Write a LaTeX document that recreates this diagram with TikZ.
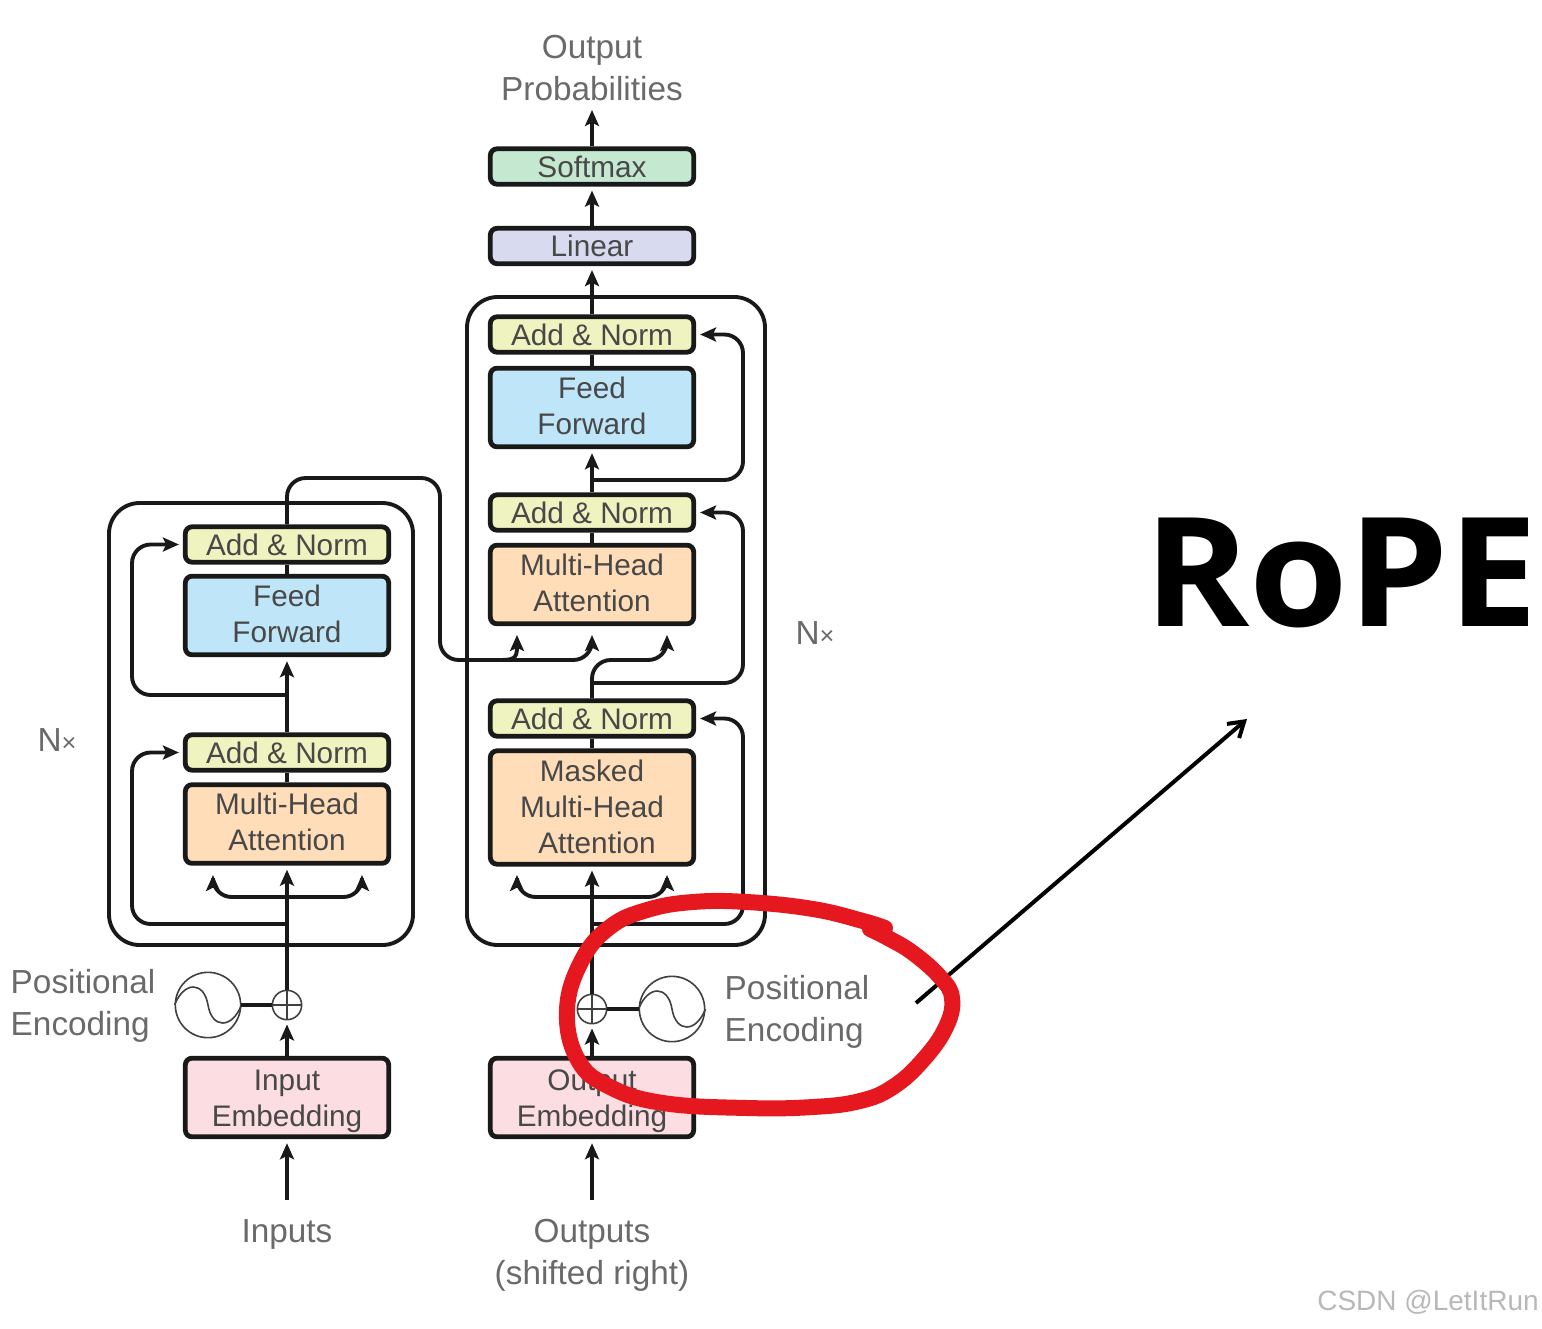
\documentclass[tikz,border=0pt]{standalone}
\usepackage{fontspec}
\usepackage{graphicx}
\setmainfont{Liberation Sans}
\newfontfamily\ropefont{Open Sans}
\usetikzlibrary{arrows.meta,calc}
\definecolor{anc}{HTML}{EFF3BF}
\definecolor{ffc}{HTML}{BFE6F8}
\definecolor{mhc}{HTML}{FFDDB8}
\definecolor{emc}{HTML}{FBDDE2}
\definecolor{sfc}{HTML}{C5E8D0}
\definecolor{lnc}{HTML}{D8DBF0}
\definecolor{txt}{HTML}{484848}
\definecolor{lbl}{HTML}{6A6A6A}
\definecolor{redm}{HTML}{E5181F}
\newcommand{\upl}[1][3pt]{\rule[-#1]{0pt}{0pt}}
\newcommand{\dnl}{\rule{0pt}{20.7pt}}
\tikzset{
  tipa/.tip={Stealth[length=12pt,width=10.5pt,inset=2.5pt]},
  box/.style={draw=black!90,line width=3.6pt,rounded corners=5pt,minimum width=152.5pt,inner sep=0pt,
    align=center,text=txt,font=\fontsize{22.3}{27}\selectfont},
  short/.style={box,minimum height=26.5pt},
  tall/.style={box,minimum height=59pt},
  taller/.style={box,minimum height=85pt},
  lab/.style={align=center,text=lbl,font=\fontsize{25}{31.5}\selectfont,inner sep=0pt},
  frm/.style={draw=black!90,line width=2.9pt,rounded corners=23pt},
  con/.style={draw=black!90,line width=2.9pt},
  arr/.style={con,-tipa,shorten >=3pt},
  rcon/.style={con,rounded corners=14pt},
  barr/.style={rcon,-tipa,shorten >=3pt},
  thinline/.style={draw=black!75,line width=1.2pt}
}
\begin{document}
\begin{tikzpicture}[x=0.75pt,y=-0.75pt]
\useasboundingbox (0,0) rectangle (1542,1328);
% frames
\node[frm,minimum width=228pt,minimum height=331.5pt,inner sep=0pt] (encframe) at (261,724) {};
\node[frm,minimum width=223.5pt,minimum height=486pt,inner sep=0pt] (decframe) at (616,621) {};
% encoder boxes
\node[short,fill=anc] (ean1) at (287,544.5) {Add \& Norm};
\node[tall,fill=ffc] (eff) at (287,615.5) {Feed\\Forward\upl};
\node[short,fill=anc] (ean2) at (287,752.5) {Add \& Norm};
\node[tall,fill=mhc] (emh) at (287,824) {Multi-Head\\Attention\upl};
\node[tall,fill=emc] (eemb) at (287,1097.5) {\dnl Input\\Embedding};
% decoder boxes
\node[short,fill=sfc] (soft) at (592,166.5) {Softmax};
\node[short,fill=lnc] (lin) at (592,246) {Linear};
\node[short,fill=anc] (dan1) at (592,334.5) {Add \& Norm};
\node[tall,fill=ffc] (dff) at (592,407.5) {Feed\\Forward\upl};
\node[short,fill=anc] (dan2) at (592,512.5) {Add \& Norm};
\node[tall,fill=mhc] (dmh) at (592,584.5) {Multi-Head\\Attention\upl};
\node[short,fill=anc] (dan3) at (592,718.5) {Add \& Norm};
\node[taller,fill=mhc] (dmm) at (592,807.5) {Masked\\Multi-Head\\\hspace*{7.5pt}Attention\upl[1.5pt]};
\node[tall,fill=emc] (demb) at (592,1097.5) {\dnl Output\\Embedding};
% labels
\node[lab] (prob) at (592,68) {Output\\Probabilities};
\node[lab] (inp) at (287,1234) {Inputs};
\node[lab] (outp) at (592,1255) {Outputs\\(shifted right)};
\node[lab,align=left] (pel) at (83,1006) {Positional\\Encoding};
\node[lab,align=left] (per) at (797,1012) {Positional\\Encoding};
\node[lab] (nxl) at (57,740) {N{\fontsize{19}{19}\selectfont ×}};
\node[lab] (nxr) at (815,633) {N{\fontsize{19}{19}\selectfont ×}};
% positional symbols
\node[draw=black!75,line width=1.2pt,circle,minimum size=49pt,inner sep=0pt] (esin) at (208,1005) {};
\node[draw=black!75,line width=1.2pt,circle,minimum size=49pt,inner sep=0pt] (dsin) at (672,1009) {};
\node[draw=black!75,line width=1.2pt,circle,minimum size=22pt,inner sep=0pt] (epl) at (287,1005) {};
\node[draw=black!75,line width=1.2pt,circle,minimum size=22pt,inner sep=0pt] (dpl) at (592,1009) {};
\foreach \c in {esin,dsin}{
  \draw[thinline] (\c.west) .. controls ($(\c.center)+(-24,-24)$) and ($(\c.center)+(-4,-24)$) .. (\c.center)
     .. controls ($(\c.center)+(4,24)$) and ($(\c.center)+(24,24)$) .. (\c.east);
}
\foreach \c in {epl,dpl}{
  \draw[thinline] (\c.west) -- (\c.east) (\c.north) -- (\c.south);
}
\draw[con] (esin.east) -- (epl.west);
\draw[con] (dpl.east) -- (dsin.west);
% encoder connectors
\coordinate (einS) at (287,1200);
\draw[arr] (einS) -- (eemb.south);
\draw[arr] (eemb.north) -- (epl.south);
\draw[arr] (epl.north) -- (emh.south);
\coordinate (ej1) at (287,897);
\coordinate (ej2) at (287,924);
\coordinate (ej3) at (287,695);
\coordinate (ex1) at (213,871);
\coordinate (ex2) at (362,871);
\draw[barr] (ej1) -| (ex1);
\draw[barr] (ej1) -| (ex2);
\coordinate (ec1) at (132,924);
\coordinate (ec2) at (132,752.5);
\draw[barr] (ej2) -- (ec1) -- (ec2) -- (ean2.west);
\draw[con] (emh.north) -- (ean2.south);
\draw[arr] (ean2.north) -- (eff.south);
\coordinate (ec3) at (132,695);
\coordinate (ec4) at (132,544.5);
\draw[barr] (ej3) -- (ec3) -- (ec4) -- (ean1.west);
\draw[con] (eff.north) -- (ean1.south);
% encoder to decoder
\coordinate (xa) at (287,478);
\coordinate (xb) at (440,478);
\coordinate (xc) at (440,660);
\coordinate (xd) at (592,660);
\coordinate (xe) at (592,631);
\coordinate (xf) at (517,660);
\coordinate (xg) at (517,631);
\draw[barr] (ean1.north) -- (xa) -- (xb) -- (xc) -- (xd) -- (xe);
\draw[barr] ($(xf)+(-22,0)$) .. controls ($(xf)+(-4,0)$) and (xf) .. (xg);
% decoder connectors
\coordinate (doutS) at (592,1200);
\draw[arr] (doutS) -- (demb.south);
\draw[arr] (demb.north) -- (dpl.south);
\draw[arr] (dpl.north) -- (dmm.south);
\coordinate (dj1) at (592,897);
\coordinate (dj2) at (592,924);
\coordinate (dx1) at (517,871);
\coordinate (dx2) at (667,871);
\draw[barr] (dj1) -| (dx1);
\draw[barr] (dj1) -| (dx2);
\coordinate (dc1) at (743,924);
\coordinate (dc2) at (743,718.5);
\draw[barr] (dj2) -- (dc1) -- (dc2) -- (dan3.east);
\draw[con] (dmm.north) -- (dan3.south);
\coordinate (dj3) at (592,660);
\coordinate (dj4) at (592,683);
\coordinate (dx3) at (667,631);
\coordinate (dk) at (667,660);
\draw[barr] (dan3.north) -- (dj3) -- (dk) -- (dx3);
\coordinate (dc3) at (743,683);
\coordinate (dc4) at (743,512.5);
\draw[barr] (dj4) -- (dc3) -- (dc4) -- (dan2.east);
\draw[con] (dmh.north) -- (dan2.south);
\draw[arr] (dan2.north) -- (dff.south);
\coordinate (dj5) at (592,480);
\coordinate (dc5) at (743,480);
\coordinate (dc6) at (743,334.5);
\draw[barr] (dj5) -- (dc5) -- (dc6) -- (dan1.east);
\draw[con] (dff.north) -- (dan1.south);
\draw[arr] (dan1.north) -- (lin.south);
\draw[arr] (lin.north) -- (soft.south);
\coordinate (probS) at (592,106);
\draw[arr] (soft.north) -- (probS);
% RoPE
\node[inner sep=0pt,anchor=center] (rope) at (1341,573) {\scalebox{1.05}[1]{\ropefont\bfseries\fontsize{114}{114}\selectfont RoPE}};
\node[inner sep=0pt,text=black!28,font=\fontsize{21}{21}\selectfont] (mark) at (1428,1302) {CSDN @LetItRun};
% pointer
\coordinate (pa) at (916,1003);
\coordinate (pb) at (1247,719);
\draw[line width=3pt,draw=black,-{Straight Barb[length=11pt,width=14pt]}] (pa) -- (pb);
% red ring
\draw[redm,line width=12pt,line cap=round,line join=round] plot[smooth,tension=0.7] coordinates {
 (885,928) (863,921) (813,909) (747,902) (693,902) (647,910) (610,927) (582,960) (567,1010)
 (578,1060) (610,1087) (663,1103) (747,1108) (813,1107) (860,1101) (893,1087) (923,1060) (946,1027) (952,998)
 (940,977) (913,953) (888,938) (870,929)};
\end{tikzpicture}
\end{document}
